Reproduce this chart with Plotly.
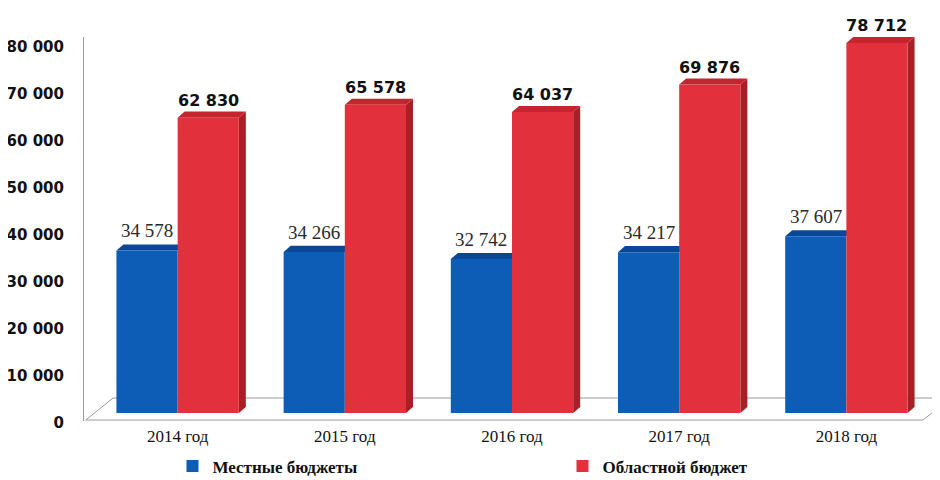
import plotly.graph_objects as go

years = ["2014 год", "2015 год", "2016 год", "2017 год", "2018 год"]
local_budgets = [34578, 34266, 32742, 34217, 37607]
regional_budget = [62830, 65578, 64037, 69876, 78712]
local_labels = ["34 578", "34 266", "32 742", "34 217", "37 607"]
regional_labels = ["62 830", "65 578", "64 037", "69 876", "78 712"]
y_ticks = [0, 10000, 20000, 30000, 40000, 50000, 60000, 70000, 80000]
y_tick_text = ["0", "10 000", "20 000", "30 000", "40 000", "50 000", "60 000", "70 000", "80 000"]

BLUE = "#0d5cb6"
BLUE_TOP = "#0a4796"
RED = "#e2313c"
RED_TOP = "#c5252f"
RED_SIDE = "#a91f28"

W = 0.366          # bar width in category units
DX = 0.042         # depth, x units
DY = 1300          # depth, y units

xs = list(range(len(years)))

fig = go.Figure()
fig.add_trace(go.Bar(x=xs, y=local_budgets, name="Местные бюджеты", width=W, offset=-W,
                     marker=dict(color=BLUE, line=dict(width=0)), cliponaxis=False))
fig.add_trace(go.Bar(x=xs, y=regional_budget, name="Областной бюджет", width=W, offset=0,
                     marker=dict(color=RED, line=dict(width=0)), cliponaxis=False))

shapes = []
# floor
y_front, y_back = -1500, 3190
shapes.append(dict(type="path", xref="x", yref="y", layer="below",
                   path=f"M -0.55 {y_front} L 4.458 {y_front} L 4.625 {y_back} L -0.386 {y_back} Z",
                   fillcolor="white", line=dict(color="#9a9a9a", width=1)))

def faces(x0, x1, v, top_col, side_col):
    out = []
    out.append(dict(type="path", xref="x", yref="y", layer="below",
                    path=f"M {x0} {v} L {x0+DX} {v+DY} L {x1+DX} {v+DY} L {x1} {v} Z",
                    fillcolor=top_col, line=dict(width=0)))
    if side_col:
        out.append(dict(type="path", xref="x", yref="y", layer="below",
                        path=f"M {x1} {v} L {x1+DX} {v+DY} L {x1+DX} {DY} L {x1} 0 Z",
                        fillcolor=side_col, line=dict(width=0)))
    return out

for i, (a, b) in enumerate(zip(local_budgets, regional_budget)):
    shapes += faces(i - W, i, a, BLUE_TOP, None)
    shapes += faces(i, i + W, b, RED_TOP, RED_SIDE)

annotations = []
for i, (a, b) in enumerate(zip(local_budgets, regional_budget)):
    annotations.append(dict(x=i - W / 2, y=a, text=local_labels[i], showarrow=False,
                            xref="x", yref="y", yanchor="bottom", yshift=7,
                            font=dict(family="Liberation Serif", size=19, color="#2a2a2a")))
    annotations.append(dict(x=i + W / 2, y=b, text=regional_labels[i], showarrow=False,
                            xref="x", yref="y", yanchor="bottom", yshift=6,
                            font=dict(family="DejaVu Sans", size=16, color="#111111", weight="bold")))

fig.update_layout(
    width=940, height=480,
    margin=dict(l=76, r=8, t=29, b=67, autoexpand=False),
    paper_bgcolor="white", plot_bgcolor="white",
    shapes=shapes, annotations=annotations,
    barmode="overlay",
    showlegend=True,
    legend=dict(orientation="h", x=0.175, xanchor="left", xref="container",
                y=0.045, yanchor="middle", yref="container",
                entrywidth=345, font=dict(family="Liberation Serif", size=17, color="#111111", weight="bold"),
                bgcolor="rgba(0,0,0,0)"),
    xaxis=dict(range=[-0.56, 4.56], tickvals=xs, ticktext=years, showgrid=False, zeroline=False,
               showline=False, ticks="", ticklabelstandoff=3, automargin=False,
               tickfont=dict(family="Liberation Serif", size=17, color="#111111")),
    yaxis=dict(range=[-1700, 80000], tickvals=y_ticks, ticktext=y_tick_text, showgrid=False,
               zeroline=False, showline=True, linecolor="#9a9a9a", linewidth=1, ticks="",
               ticklabelstandoff=16, ticklabelshift=10, automargin=False,
               tickfont=dict(family="DejaVu Sans", size=15, color="#111111", weight="bold")),
)

fig.write_html("out.html")
